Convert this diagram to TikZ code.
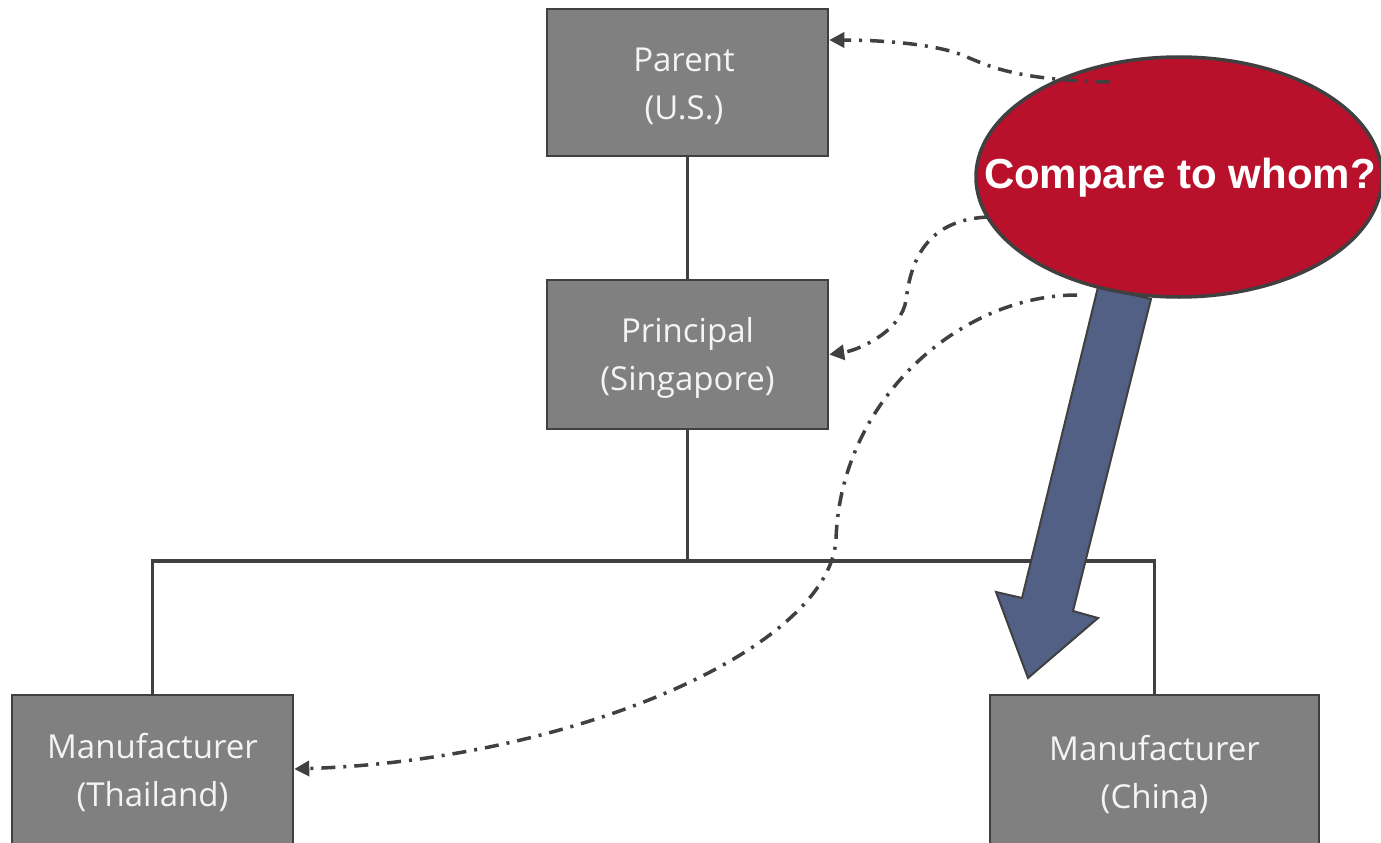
\documentclass[tikz,border=0pt]{standalone}
\usepackage{fontspec}
\setmainfont{Open Sans}
\newfontfamily\arialfont{Liberation Sans}
\usetikzlibrary{shapes.geometric,arrows.meta,calc}
\definecolor{boxgray}{HTML}{808080}
\definecolor{edgegray}{HTML}{404040}
\definecolor{bubblered}{HTML}{B9102B}
\definecolor{arrowblue}{HTML}{526086}
\definecolor{textwhite}{HTML}{F4F4F4}
\tikzset{
  entity/.style={draw=edgegray, line width=2.5pt, fill=boxgray, inner sep=0pt},
  entitytext/.style={text=textwhite, align=center, inner sep=0pt,
    font=\fontsize{33}{48}\selectfont},
  tree/.style={draw=edgegray, line width=3.5pt},
  dashdot/.style={draw=edgegray, line width=3.5pt,
    dash pattern=on 14pt off 8pt on 3pt off 8pt,
    -{Triangle[length=15pt,width=15pt]}},
}
\begin{document}
\begin{tikzpicture}[x=1pt,y=-1pt]
\useasboundingbox (0,0) rectangle (1381,843);
\clip (0,0) rectangle (1381,843);
\fill[white] (0,0) rectangle (1381,843);

% boxes
\node[entity, minimum width=281pt, minimum height=147pt] (parent) at (687.5,82.5) {};
\node[entity, minimum width=281pt, minimum height=149pt] (principal) at (687.5,354.5) {};
\node[entity, minimum width=281pt, minimum height=154pt] (thai) at (152.5,772) {};
\node[entity, minimum width=329pt, minimum height=154pt] (china) at (1154.5,772) {};
\node[entitytext] (parenttext) at (684,86) {Parent\\(U.S.)};
\node[entitytext] (principaltext) at (687.5,358) {Principal\\(Singapore)};
\node[entitytext] (thaitext) at (152.5,772) {Manufacturer\\(Thailand)};
\node[entitytext] (chinatext) at (1154.5,774) {Manufacturer\\(China)};

% tree connectors
\draw[tree] (parent.south) -- (principal.north);
\draw[tree] (principal.south) -- (principal.south |- 0,562);
\draw[tree] (thai.north) -- ++(0,-133) -| (china.north);

% big block arrow
\fill[arrowblue, draw=edgegray, line width=2pt, line join=miter]
  (1098,287) -- (1151,299) -- (1073,611) -- (1098,618) -- (1028,678)
  -- (996,592) -- (1022,598) -- cycle;

% bubble
\node[ellipse, draw=edgegray, line width=3.5pt, fill=bubblered,
      minimum width=406pt, minimum height=240pt, inner sep=0pt] (bubble) at (1179,177) {};
\node[text=white, font=\arialfont\bfseries\fontsize{42}{50}\selectfont, inner sep=0pt]
  (question) at (1180,178) {Compare to whom?};

% dash-dot connectors
\coordinate (s1) at (1110,82);
\coordinate (k1) at (962,55);
\coordinate (s2) at (988,217);
\coordinate (k2) at (906,300);
\coordinate (s3) at (1077,295);
\coordinate (k3) at (836,540);

\draw[dashdot] (s1) .. controls (1010,80) and (985,64) .. (k1)
  .. controls (935,44) and (880,40) .. ([yshift=42.5pt]parent.east);
\draw[dashdot] (s2) .. controls (920,220) and (910,270) .. (k2)
  .. controls (902,330) and (860,350) .. (principal.east);
\draw[dashdot] (s3) .. controls (960,295) and (840,400) .. (k3)
  .. controls (828,650) and (570,760) .. ([yshift=3pt]thai.east);
\end{tikzpicture}
\end{document}
